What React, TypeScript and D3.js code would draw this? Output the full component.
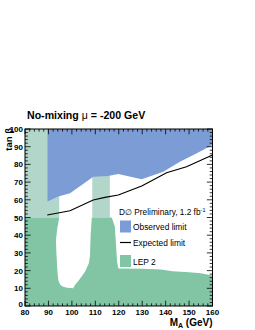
import React from "react";
import * as d3 from "d3";

// observed limit, lower edge of the excluded band (M_A in GeV, tan beta)
const observedMass = [89.6, 94.2, 99.2, 104.2, 109.1, 115.5, 119.8, 129.8, 139, 146.1, 153.3, 160];
const observedTanb = [59, 61.8, 63.7, 68.4, 73, 73.4, 74.6, 71.6, 75.9, 81.5, 86.3, 91];

// expected limit
const expectedMass = [89.5, 99.2, 109.1, 114.1, 119.8, 129.8, 140.4, 148.9, 160];
const expectedTanb = [51.4, 53.8, 59.9, 61.4, 62.7, 67.8, 75.3, 78.7, 85.3];

// LEP 2, upper edge of the low tan beta exclusion
const lepMass = [80, 94.6, 93.8, 93.2, 93.4, 93.8, 94.2, 95, 96.3, 98, 100.6, 101.3, 103, 105.6, 107.2, 107.7, 108, 108.5, 117, 118.3, 118.8, 119.3, 119.8, 130, 138, 143, 150, 155, 160];
const lepTanb = [50, 50, 44, 37.3, 30, 20, 14.7, 12, 10.9, 10.3, 10, 11.9, 14.5, 19.4, 24, 27.9, 40, 50, 50, 45, 35, 25, 21.2, 21, 20.6, 19.6, 19, 18.5, 17.3];

// LEP 2 high tan beta bands
const lepHighMin = [80, 108.7];
const lepHighMax = [94.6, 116.2];
const lepHighTop = [100, 73.6];

const xTicks = [80, 90, 100, 110, 120, 130, 140, 150, 160];
const yTicks = [0, 10, 20, 30, 40, 50, 60, 70, 80, 90, 100];

const W = 255, H = 330;
const left = 25, right = 212.5, top = 129, bottom = 306;

const BLUE = "#7c9cd6";
const GREEN = "#81c5a5";
const TEAL = "#b3d6ca";

export default function App() {
  const x = d3.scaleLinear().domain([80, 160]).range([left, right]);
  const y = d3.scaleLinear().domain([0, 100]).range([bottom, top]);

  const line = d3.line<[number, number]>().x(d => x(d[0])).y(d => y(d[1]));

  const obsPts: [number, number][] = observedMass.map((m, i) => [m, observedTanb[i]]);
  const obsPoly = [...obsPts, [160, 100], [observedMass[0], 100]] as [number, number][];
  const lepPts: [number, number][] = lepMass.map((m, i) => [m, lepTanb[i]]);
  const lepPoly = [...lepPts, [160, 0], [80, 0]] as [number, number][];
  const expPts: [number, number][] = expectedMass.map((m, i) => [m, expectedTanb[i]]);

  const xMinor = d3.range(80, 160.01, 2);
  const yMinor = d3.range(0, 100.01, 2);
  const majX = 5.3, majY = 5.6;

  const font = "'Liberation Sans', Arial, sans-serif";

  return (
    <svg width={W} height={H} style={{ position: "absolute", left: 0, top: 0 }} fontFamily={font}>
      <rect width={W} height={H} fill="white" />
      {lepHighMin.map((m, i) => (
        <rect key={i} x={x(m)} y={y(lepHighTop[i])} width={x(lepHighMax[i]) - x(m)}
          height={y(50) - y(lepHighTop[i])} fill={TEAL} />
      ))}
      <path d={line(lepPoly) + "Z"} fill={GREEN} />
      <path d={line(obsPoly) + "Z"} fill={BLUE} />
      <path d={line(expPts) ?? ""} fill="none" stroke="black" strokeWidth={1.2} />

      {/* ticks */}
      <g stroke="black" strokeWidth={0.8}>
        {xMinor.map(v => {
          const len = v % 10 === 0 ? majX : majX / 2;
          return (
            <g key={"x" + v}>
              <line x1={x(v)} x2={x(v)} y1={bottom} y2={bottom - len} />
              <line x1={x(v)} x2={x(v)} y1={top} y2={top + len} />
            </g>
          );
        })}
        {yMinor.map(v => {
          const len = v % 10 === 0 ? majY : majY / 2;
          return (
            <g key={"y" + v}>
              <line x1={left} x2={left + len} y1={y(v)} y2={y(v)} />
              <line x1={right} x2={right - len} y1={y(v)} y2={y(v)} />
            </g>
          );
        })}
      </g>
      <rect x={left} y={top} width={right - left} height={bottom - top} fill="none" stroke="black" strokeWidth={1} />

      {/* tick labels */}
      <g fontSize={8} fontWeight="bold" textAnchor="middle">
        {xTicks.map(v => (
          <text key={v} x={x(v)} y={315}>{v}</text>
        ))}
      </g>
      <g fontSize={8} fontWeight="bold" textAnchor="end">
        {yTicks.map(v => (
          <text key={v} x={left - 2} y={v === 0 ? y(v) + 0.5 : y(v) + 3}>{v}</text>
        ))}
      </g>

      {/* axis titles */}
      <text x={right} y={326} textAnchor="end" fontSize={10} fontWeight="bold">
        M<tspan fontSize={7} dy={2}>A</tspan><tspan dy={-2}> (GeV)</tspan>
      </text>
      <text transform={`translate(12, ${top - 1}) rotate(-90)`} textAnchor="end" fontSize={9.5} fontWeight="bold">
        tan β
      </text>

      {/* title */}
      <text x={27} y={118.5} fontSize={10.6} fontWeight="bold">
        No-mixing <tspan fontWeight="normal">μ</tspan> = -200 GeV
      </text>

      {/* legend */}
      <text x={119} y={215} fontSize={8.3}>
        D∅ Preliminary, 1.2 fb<tspan fontSize={5.5} dy={-3.5}>-1</tspan>
      </text>
      <rect x={120} y={220.5} width={11} height={12} fill={BLUE} />
      <text x={133} y={230} fontSize={8.4}>Observed limit</text>
      <line x1={120} x2={131} y1={242.5} y2={242.5} stroke="black" strokeWidth={1.2} />
      <text x={133} y={245.5} fontSize={8.4}>Expected limit</text>
      <rect x={120} y={255} width={11} height={12} fill={GREEN} />
      <text x={133} y={264.5} fontSize={8.4}>LEP 2</text>
    </svg>
  );
}
